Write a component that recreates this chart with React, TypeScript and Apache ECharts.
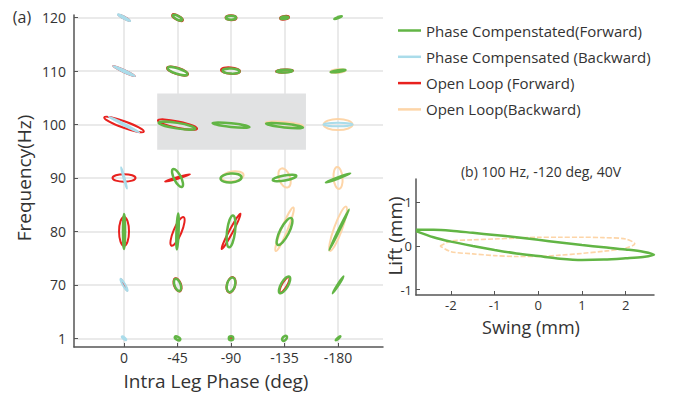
import React, { useEffect, useRef } from 'react';
import * as echarts from 'echarts';

// ---------- data ----------
const phaseLabels = ['0', '-45', '-90', '-135', '-180'];
const freqLabels = ['1', '70', '80', '90', '100', '110', '120'];

// Left panel loops, one ellipse per (phase, frequency) cell:
// [phaseIdx, freqIdx, semiMajor, semiMinor, angleDeg, dx, dy]  (semi-axes in cell units)
const compFwd = [
  [1, 6, 0.10, 0.034, -28, 0, 0],
  [2, 6, 0.093, 0.037, 0, 0, 0],
  [3, 6, 0.075, 0.022, 5, 0, 0],
  [4, 6, 0.075, 0.01, 20, 0, 0],
  [1, 5, 0.196, 0.052, -18, 0, 0],
  [2, 5, 0.159, 0.047, -3, 0, 0],
  [3, 5, 0.15, 0.024, 3, 0, 0],
  [4, 5, 0.14, 0.015, 8, 0, 0],
  [1, 4, 0.346, 0.052, -9, -0.01, -0.02],
  [2, 4, 0.346, 0.034, -6, 0, -0.01],
  [3, 4, 0.346, 0.034, -6, 0, -0.02],
  [1, 3, 0.187, 0.065, -63, 0, 0],
  [2, 3, 0.196, 0.084, 4, 0, 0],
  [3, 3, 0.224, 0.047, 10, 0, 0],
  [4, 3, 0.243, 0.01, 20, 0, 0],
  [0, 2, 0.327, 0.02, 90, 0, 0],
  [1, 2, 0.336, 0.02, 88, 0, 0],
  [2, 2, 0.30, 0.075, 83, 0, 0],
  [3, 2, 0.28, 0.084, 63, 0, 0],
  [4, 2, 0.42, 0.01, 64, 0.02, 0.03],
  [1, 1, 0.12, 0.056, -70, 0, 0],
  [2, 1, 0.14, 0.075, 75, 0, 0],
  [3, 1, 0.178, 0.065, 60, 0, 0],
  [4, 1, 0.187, 0.01, 57, 0, 0],
  [1, 0, 0.056, 0.028, -30, 0, 0],
  [2, 0, 0.041, 0.037, 0, 0, 0],
  [3, 0, 0.056, 0.034, 45, 0, 0],
  [4, 0, 0.056, 0.01, 40, 0, 0],
];
const compBwd = [
  [0, 6, 0.13, 0.019, -28, 0, 0],
  [0, 5, 0.224, 0.019, -25, 0, 0],
  [0, 4, 0.318, 0.015, -27, 0, 0],
  [4, 4, 0.271, 0.034, 0, 0, 0],
  [0, 3, 0.206, 0.01, -75, 0, 0],
  [0, 1, 0.131, 0.022, -60, 0, 0],
  [0, 0, 0.052, 0.019, -40, 0, 0],
];
const openFwd = [
  [0, 6, 0.12, 0.015, -28, 0, 0],
  [1, 6, 0.112, 0.04, -28, 0, 0],
  [2, 6, 0.103, 0.047, 0, 0, 0],
  [3, 6, 0.084, 0.034, 8, 0, 0],
  [0, 5, 0.224, 0.019, -25, 0, 0],
  [1, 5, 0.206, 0.06, -18, 0, 0],
  [2, 5, 0.178, 0.06, -5, -0.01, 0.01],
  [3, 5, 0.159, 0.028, 3, 0, 0],
  [0, 4, 0.393, 0.06, -20, 0, 0],
  [1, 4, 0.374, 0.06, -12, 0, 0],
  [0, 3, 0.215, 0.071, 0, 0, 0],
  [1, 3, 0.243, 0.015, 16, 0, 0],
  [0, 2, 0.271, 0.093, 90, 0, 0],
  [1, 2, 0.29, 0.075, 67, 0, 0],
  [2, 2, 0.374, 0.034, 62, 0, 0],
  [0, 1, 0.12, 0.01, -60, 0, 0],
  [1, 1, 0.131, 0.065, -70, 0, 0],
  [2, 1, 0.15, 0.079, 75, 0, 0],
  [3, 1, 0.168, 0.047, 60, 0, 0],
  [2, 0, 0.028, 0.022, 0, 0, 0],
];
const openBwd = [
  [4, 5, 0.14, 0.034, 5, 0, 0],
  [3, 4, 0.355, 0.047, -5, 0, 0],
  [4, 4, 0.271, 0.103, 0, 0, 0],
  [2, 3, 0.206, 0.093, 8, 0.03, 0.03],
  [3, 3, 0.187, 0.103, -70, 0, 0],
  [4, 3, 0.206, 0.084, -85, 0, 0],
  [3, 2, 0.44, 0.056, 68, 0, 0.04],
  [4, 2, 0.44, 0.075, 70, 0, 0.05],
];
// highlighted region [x1, y1, x2, y2] in left-panel axis units
const highlight = [[0.62, 4.58, 3.4, 3.53]];

// Right panel: (b) 100 Hz, -120 deg, 40V  [swing mm, lift mm]
const swingTicks = [-2, -1, 0, 1, 2];
const liftTicks = [-1, 0, 1];
const bCompFwd = [
  [-2.8, 0.37], [-2.4, 0.37], [-2, 0.35], [-1.5, 0.3], [-1, 0.25], [-0.5, 0.2], [0, 0.14],
  [0.5, 0.08], [1, 0.02], [1.5, -0.03], [2, -0.08], [2.4, -0.13], [2.65, -0.2],
  [2.4, -0.25], [2, -0.28], [1.5, -0.31], [1, -0.32], [0.5, -0.29], [0, -0.23],
  [-0.5, -0.17], [-1, -0.09], [-1.5, 0.0], [-2, 0.1], [-2.4, 0.2], [-2.8, 0.34],
];
const bOpenBwd = [
  [-2.25, 0], [-2, 0.11], [-1.5, 0.14], [-1, 0.16], [-0.5, 0.18], [0, 0.2], [0.5, 0.2],
  [1, 0.2], [1.5, 0.19], [2, 0.16], [2.21, 0.05], [2, -0.05], [1.5, -0.12], [1, -0.17],
  [0.5, -0.21], [0, -0.24], [-0.5, -0.24], [-1, -0.22], [-1.5, -0.18], [-2, -0.13], [-2.25, 0],
];

const NAMES = [
  'Phase Compenstated(Forward)',
  'Phase Compensated (Backward)',
  'Open Loop (Forward)',
  'Open Loop(Backward)',
];
const GREEN = '#62b545';
const BLUE = '#aadcea';
const RED = '#e8211e';
const ORANGE = '#fdd5a8';
const FONT = 'Open Sans';
const TXT = '#333333';

function ellipseRender(color: string, width: number) {
  return (params: any, api: any) => {
    const c = api.coord([api.value(0) + api.value(5), api.value(1) + api.value(6)]);
    const s = api.size([1, 1]);
    return {
      type: 'ellipse',
      x: c[0],
      y: c[1],
      rotation: (api.value(4) * Math.PI) / 180,
      shape: { cx: 0, cy: 0, rx: api.value(2) * s[0], ry: api.value(3) * s[0] },
      style: { fill: 'none', stroke: color, lineWidth: width },
    };
  };
}

export default function App() {
  const ref = useRef<HTMLDivElement>(null);
  useEffect(() => {
    if (!ref.current) return;
    const chart = echarts.init(ref.current, null, { renderer: 'svg' });
    const axisLine = { show: true, onZero: false, lineStyle: { color: '#555', width: 1.5 } };
    const option: any = {
      animation: false,
      backgroundColor: '#ffffff',
      textStyle: { fontFamily: FONT },
      legend: {
        data: NAMES,
        orient: 'vertical',
        left: 398,
        top: 23,
        padding: 0,
        icon: 'rect',
        itemWidth: 23,
        itemHeight: 2.5,
        itemGap: 11.3,
        textStyle: { fontFamily: FONT, fontSize: 15, color: TXT },
        selectedMode: false,
      },
      grid: [
        { left: 74, top: 15, width: 309, height: 332 },
        { left: 416, top: 179, width: 238, height: 116 },
      ],
      xAxis: [
        {
          type: 'value',
          gridIndex: 0,
          min: -0.935,
          max: 4.84,
          axisLine,
          axisTick: { show: true, inside: true, length: 4, customValues: [0, 1, 2, 3, 4], lineStyle: { color: '#555' } },
          axisLabel: {
            customValues: [0, 1, 2, 3, 4],
            formatter: (v: number) => phaseLabels[Math.round(v)] ?? '',
            fontSize: 14,
            color: TXT,
            fontFamily: FONT,
            margin: 3,
          },
          splitLine: { show: true, lineStyle: { color: '#e3e3e3', width: 1.5 } },
        },
        {
          type: 'value',
          gridIndex: 1,
          min: -2.8,
          max: 2.65,
          axisLine,
          axisTick: { show: true, inside: true, length: 4, customValues: swingTicks, lineStyle: { color: '#555' } },
          axisLabel: { customValues: swingTicks, fontSize: 13, color: TXT, fontFamily: FONT, margin: 3 },
          splitLine: { show: false },
        },
      ],
      yAxis: [
        {
          type: 'value',
          gridIndex: 0,
          min: -0.163,
          max: 6.05,
          axisLine,
          axisTick: { show: true, inside: true, length: 4, customValues: [0, 1, 2, 3, 4, 5, 6], lineStyle: { color: '#555' } },
          axisLabel: {
            customValues: [0, 1, 2, 3, 4, 5, 6],
            formatter: (v: number) => freqLabels[Math.round(v)] ?? '',
            fontSize: 14,
            color: TXT,
            fontFamily: FONT,
            margin: 8,
          },
          splitLine: { show: true, lineStyle: { color: '#e3e3e3', width: 1.5 } },
        },
        {
          type: 'value',
          gridIndex: 1,
          min: -1.12,
          max: 1.53,
          axisLine,
          axisTick: { show: true, inside: true, length: 4, customValues: liftTicks, lineStyle: { color: '#555' } },
          axisLabel: { customValues: liftTicks, fontSize: 13, color: TXT, fontFamily: FONT, margin: 4 },
          splitLine: { show: false },
        },
      ],
      series: [
        {
          type: 'custom',
          name: 'highlight',
          xAxisIndex: 0,
          yAxisIndex: 0,
          data: highlight,
          silent: true,
          renderItem: (params: any, api: any) => {
            const p1 = api.coord([api.value(0), api.value(1)]);
            const p2 = api.coord([api.value(2), api.value(3)]);
            return {
              type: 'rect',
              shape: { x: p1[0], y: p1[1], width: p2[0] - p1[0], height: p2[1] - p1[1] },
              style: { fill: '#e1e2e3' },
            };
          },
        },
        {
          type: 'custom',
          name: NAMES[3],
          xAxisIndex: 0,
          yAxisIndex: 0,
          data: openBwd,
          itemStyle: { color: ORANGE },
          renderItem: ellipseRender(ORANGE, 2),
        },
        {
          type: 'custom',
          name: NAMES[2],
          xAxisIndex: 0,
          yAxisIndex: 0,
          data: openFwd,
          itemStyle: { color: RED },
          renderItem: ellipseRender(RED, 2),
        },
        {
          type: 'custom',
          name: NAMES[1],
          xAxisIndex: 0,
          yAxisIndex: 0,
          data: compBwd,
          itemStyle: { color: BLUE },
          renderItem: ellipseRender(BLUE, 2),
        },
        {
          type: 'custom',
          name: NAMES[0],
          xAxisIndex: 0,
          yAxisIndex: 0,
          data: compFwd,
          itemStyle: { color: GREEN },
          renderItem: ellipseRender(GREEN, 2.5),
        },
        {
          type: 'line',
          name: NAMES[3],
          xAxisIndex: 1,
          yAxisIndex: 1,
          data: bOpenBwd,
          smooth: 0.3,
          symbol: 'none',
          itemStyle: { color: ORANGE },
          lineStyle: { color: ORANGE, width: 1.6, type: [5, 2] },
        },
        {
          type: 'line',
          name: NAMES[0],
          xAxisIndex: 1,
          yAxisIndex: 1,
          data: bCompFwd,
          smooth: 0.3,
          symbol: 'none',
          itemStyle: { color: GREEN },
          lineStyle: { color: GREEN, width: 2.5 },
        },
      ],
      graphic: [
        { type: 'text', x: 22, y: 17, style: { text: '(a)', font: `16px "${FONT}"`, fill: TXT, align: 'center', verticalAlign: 'middle' } },
        {
          type: 'text', x: 24, y: 178, rotation: Math.PI / 2,
          style: { text: 'Frequency(Hz)', font: `19px "${FONT}"`, fill: TXT, align: 'center', verticalAlign: 'middle' },
        },
        { type: 'text', x: 216, y: 381, style: { text: 'Intra Leg Phase (deg)', font: `19px "${FONT}"`, fill: TXT, align: 'center', verticalAlign: 'middle' } },
        { type: 'text', x: 541, y: 171, style: { text: '(b) 100 Hz, -120 deg, 40V', font: `14px "${FONT}"`, fill: TXT, align: 'center', verticalAlign: 'middle' } },
        {
          type: 'text', x: 395, y: 236, rotation: Math.PI / 2,
          style: { text: 'Lift (mm)', font: `19px "${FONT}"`, fill: TXT, align: 'center', verticalAlign: 'middle' },
        },
        { type: 'text', x: 531, y: 327, style: { text: 'Swing (mm)', font: `18px "${FONT}"`, fill: TXT, align: 'center', verticalAlign: 'middle' } },
      ],
    };
    chart.setOption(option);
    return () => chart.dispose();
  }, []);
  return <div ref={ref} style={{ position: 'absolute', left: 0, top: 0, width: 675, height: 394 }} />;
}
